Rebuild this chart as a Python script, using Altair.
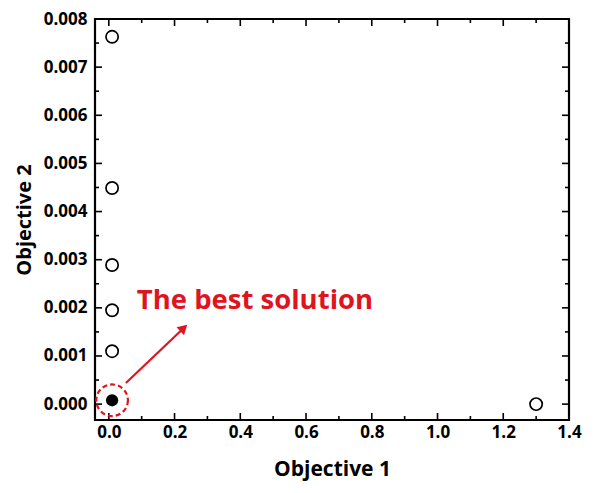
import altair as alt
import pandas as pd

# data
obj1 = [0.01, 0.01, 0.01, 0.01, 0.01, 1.30]
obj2 = [0.00763, 0.00449, 0.00289, 0.00195, 0.00110, 0.00000]
best_x = [0.01]
best_y = [0.00008]

x_major = [0.0, 0.2, 0.4, 0.6, 0.8, 1.0, 1.2, 1.4]
x_minor = [0.1, 0.3, 0.5, 0.7, 0.9, 1.1, 1.3]
y_major = [0.000, 0.001, 0.002, 0.003, 0.004, 0.005, 0.006, 0.007, 0.008]
y_minor = [0.0005, 0.0015, 0.0025, 0.0035, 0.0045, 0.0055, 0.0065, 0.0075]

label_text = ["The best solution"]
label_x = [0.085]
label_y = [0.00214]
arrow_x = [0.052, 0.228]
arrow_y = [0.00044, 0.00158]

W, H = 474, 401
RED = "#e0141e"
FONT = "Open Sans"

xs = alt.Scale(domain=[-0.042, 1.4], nice=False, zero=False)
ys = alt.Scale(domain=[-0.00033, 0.008], nice=False, zero=False)

x_axis = alt.Axis(values=x_major, format=".1f", tickSize=0, domain=False, grid=False,
                  labelFont=FONT, labelFontWeight="bold", labelFontSize=17,
                  labelColor="black", labelPadding=4, labelFlush=False,
                  titleFont=FONT, titleFontWeight="bold", titleFontSize=21,
                  titleColor="black", titlePadding=18)
y_axis = alt.Axis(values=y_major, format=".3f", tickSize=0, domain=False, grid=False,
                  labelFont=FONT, labelFontWeight="bold", labelFontSize=17,
                  labelColor="black", labelPadding=8, labelFlush=False,
                  titleFont=FONT, titleFontWeight="bold", titleFontSize=20,
                  titleColor="black", titlePadding=9)


def X(f):
    return alt.X(f, scale=xs, axis=x_axis, title="Objective 1")


def Y(f):
    return alt.Y(f, scale=ys, axis=y_axis, title="Objective 2")


pts = pd.DataFrame({"x": obj1, "y": obj2})
best = pd.DataFrame({"x": best_x, "y": best_y})

base_points = alt.Chart(pts).mark_point(
    shape="circle", size=150, filled=False, color="black", strokeWidth=1.7, opacity=1
).encode(x=X("x:Q"), y=Y("y:Q"))

best_pt = alt.Chart(best).mark_point(
    shape="circle", size=150, filled=True, color="black", opacity=1
).encode(x=X("x:Q"), y=Y("y:Q"))

best_ring = alt.Chart(best).mark_point(
    shape="circle", size=1000, filled=False, color=RED, strokeWidth=2.2, strokeDash=[5, 3], opacity=1
).encode(x=X("x:Q"), y=Y("y:Q"))

arrow_df = pd.DataFrame({"x": arrow_x, "y": arrow_y, "o": [0, 1]})
arrow_line = alt.Chart(arrow_df).mark_line(color=RED, strokeWidth=2.2).encode(
    x=X("x:Q"), y=Y("y:Q"), order="o:Q")
arrow_head = alt.Chart(arrow_df.iloc[[1]]).mark_point(
    shape="triangle-up", size=120, filled=True, color=RED, angle=47, opacity=1
).encode(x=X("x:Q"), y=Y("y:Q"))

lab_df = pd.DataFrame({"x": label_x, "y": label_y, "t": label_text})
label = alt.Chart(lab_df).mark_text(
    font=FONT, fontWeight="bold", fontSize=27.5, color=RED, align="left", baseline="middle"
).encode(x=X("x:Q"), y=Y("y:Q"), text="t:N")


def xticks(vals, length):
    df = pd.DataFrame({"x": vals})
    b = alt.Chart(df).mark_rule(color="black", strokeWidth=1.6)
    bottom = b.encode(x=X("x:Q"), y=alt.value(H), y2=alt.value(H - length))
    top = b.encode(x=X("x:Q"), y=alt.value(0), y2=alt.value(length))
    return [bottom, top]


def yticks(vals, length):
    df = pd.DataFrame({"y": vals})
    b = alt.Chart(df).mark_rule(color="black", strokeWidth=1.6)
    left = b.encode(y=Y("y:Q"), x=alt.value(0), x2=alt.value(length))
    right = b.encode(y=Y("y:Q"), x=alt.value(W), x2=alt.value(W - length))
    return [left, right]


layers = [base_points] + xticks(x_major, 7) + xticks(x_minor, 4) + yticks(y_major, 7) + yticks(y_minor, 4) + [
    best_ring, best_pt, arrow_line, arrow_head, label]

chart = alt.layer(*layers).properties(
    width=W, height=H, background="white",
    padding={"left": 6, "top": 2, "right": 5, "bottom": 5}
).configure_view(stroke="black", strokeWidth=2.2)

chart.save("out.html", embed_options={"renderer": "svg", "actions": False})
